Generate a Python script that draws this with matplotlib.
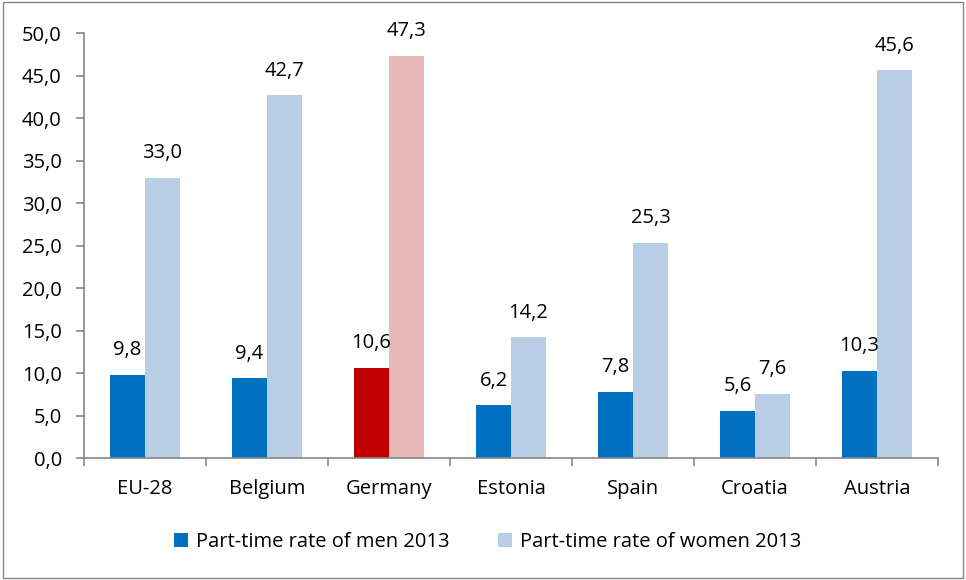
import matplotlib.pyplot as plt
from matplotlib.patches import Rectangle
import numpy as np

# part-time rates 2013, %
countries = ['EU-28', 'Belgium', 'Germany', 'Estonia', 'Spain', 'Croatia', 'Austria']
men = [9.8, 9.4, 10.6, 6.2, 7.8, 5.6, 10.3]
women = [33.0, 42.7, 47.3, 14.2, 25.3, 7.6, 45.6]

blue_dark, blue_light = '#0070C0', '#B9CDE5'
red_dark, red_light = '#C00000', '#E6B9B8'
highlight = 'Germany'

plt.rcParams['font.family'] = ['Open Sans', 'DejaVu Sans']
plt.rcParams['font.size'] = 14.5

fig = plt.figure(figsize=(9.66, 5.8), dpi=100)
ax = fig.add_axes([0.087, 0.21, 0.884, 0.733])

x = np.arange(len(countries))
w = 0.287
c_men = [red_dark if c == highlight else blue_dark for c in countries]
c_women = [red_light if c == highlight else blue_light for c in countries]
b1 = ax.bar(x - w / 2, men, w, color=c_men, label='Part-time rate of men 2013')
b2 = ax.bar(x + w / 2, women, w, color=c_women, label='Part-time rate of women 2013')

for bars, vals in ((b1, men), (b2, women)):
    for b, v in zip(bars, vals):
        ax.annotate(f'{v:.1f}'.replace('.', ','), (b.get_x() + b.get_width() / 2, v),
                    xytext=(0, 10.5), textcoords='offset points', ha='center', va='bottom')

ax.set_xlim(-0.5, len(countries) - 0.5)
ax.set_ylim(0, 50)
ax.set_yticks(np.arange(0, 50.1, 5))
ax.set_yticklabels([f'{t:.1f}'.replace('.', ',') for t in np.arange(0, 50.1, 5)])
ax.set_xticks(x)
ax.set_xticklabels(countries)
ax.set_xticks(np.arange(-0.5, len(countries)), minor=True)
ax.tick_params(axis='x', which='major', length=0, pad=15)
ax.tick_params(axis='x', which='minor', length=6, color='#868686', width=1.2)
ax.tick_params(axis='y', length=6, color='#868686', width=1.2, pad=10)

for s in ('top', 'right'):
    ax.spines[s].set_visible(False)
for s in ('left', 'bottom'):
    ax.spines[s].set_color('#868686')
    ax.spines[s].set_linewidth(1.2)

leg = fig.legend(handles=[b1, b2], loc='center', bbox_to_anchor=(0.505, 0.066), ncol=2,
                 frameon=False, handlelength=0.7, handleheight=0.7, handletextpad=0.4,
                 columnspacing=2.4)

# outer frame of the chart
fig.patches.append(Rectangle((0.003, 0.004), 0.994, 0.992, transform=fig.transFigure,
                             fill=False, edgecolor='#868686', linewidth=1.0))

fig.savefig('out.png', dpi=100)
